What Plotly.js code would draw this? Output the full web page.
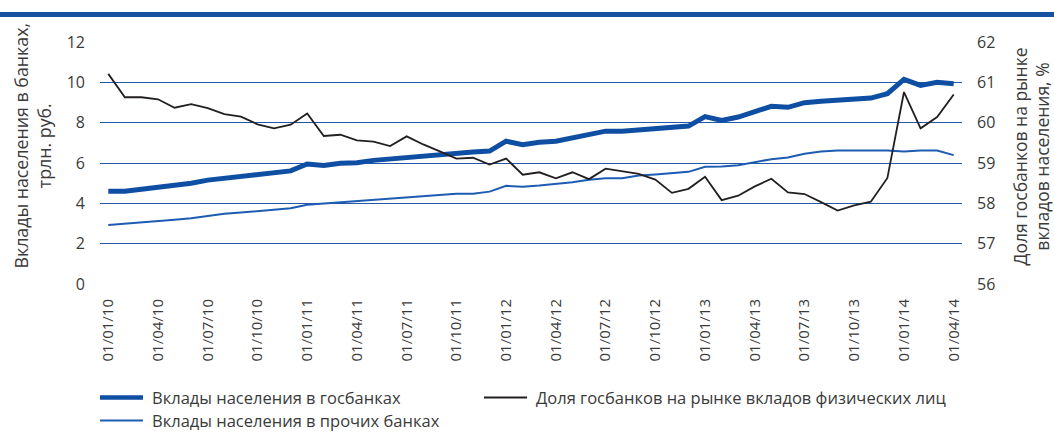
<!DOCTYPE html>
<html>
<head>
<meta charset="utf-8">
<script src="https://cdn.plot.ly/plotly-3.0.1.min.js"></script>
<style>
html,body{margin:0;padding:0;background:#fff;}
#wrap{position:relative;width:1054px;height:432px;}
#bar{position:absolute;left:0;top:12px;width:1054px;height:5px;background:#1652a3;z-index:5;}
#chart{position:absolute;left:0;top:0;width:1054px;height:432px;}
</style>
</head>
<body>
<div id="wrap"><div id="chart"></div><div id="bar"></div></div>
<script>
const dates = [
"01/01/10","01/02/10","01/03/10","01/04/10","01/05/10","01/06/10","01/07/10","01/08/10","01/09/10","01/10/10","01/11/10","01/12/10",
"01/01/11","01/02/11","01/03/11","01/04/11","01/05/11","01/06/11","01/07/11","01/08/11","01/09/11","01/10/11","01/11/11","01/12/11",
"01/01/12","01/02/12","01/03/12","01/04/12","01/05/12","01/06/12","01/07/12","01/08/12","01/09/12","01/10/12","01/11/12","01/12/12",
"01/01/13","01/02/13","01/03/13","01/04/13","01/05/13","01/06/13","01/07/13","01/08/13","01/09/13","01/10/13","01/11/13","01/12/13",
"01/01/14","01/02/14","01/03/14","01/04/14"];

const tickLabels = ["01/01/10","01/04/10","01/07/10","01/10/10","01/01/11","01/04/11","01/07/11","01/10/11",
"01/01/12","01/04/12","01/07/12","01/10/12","01/01/13","01/04/13","01/07/13","01/10/13","01/01/14","01/04/14"];

// Вклады населения в госбанках, трлн руб.
const stateBanks = [4.60,4.60,4.70,4.79,4.87,5.00,5.15,5.23,5.31,5.40,5.52,5.61,
5.95,5.88,5.99,6.01,6.13,6.20,6.33,6.40,6.43,6.53,6.55,6.59,
7.08,6.91,7.03,7.08,7.24,7.36,7.58,7.58,7.64,7.66,7.72,7.83,
8.30,8.11,8.28,8.53,8.81,8.76,8.99,9.06,9.12,9.16,9.22,9.44,
10.15,9.85,10.00,9.93];

// Вклады населения в прочих банках, трлн руб.
const otherBanks = [2.92,2.98,3.03,3.10,3.18,3.26,3.37,3.48,3.54,3.61,3.68,3.76,
3.93,3.99,4.04,4.09,4.15,4.21,4.28,4.32,4.40,4.47,4.48,4.58,
4.87,4.82,4.88,4.95,5.05,5.17,5.25,5.25,5.38,5.43,5.51,5.56,
5.81,5.83,5.89,6.03,6.19,6.27,6.46,6.57,6.62,6.62,6.62,6.62,
6.57,6.62,6.62,6.39];

// Доля госбанков на рынке вкладов физических лиц, %
const stateShare = [61.21,60.63,60.63,60.58,60.37,60.46,60.36,60.21,60.15,59.96,59.86,59.95,
60.23,59.67,59.70,59.56,59.53,59.42,59.66,59.46,59.29,59.11,59.13,58.96,
59.11,58.71,58.77,58.62,58.77,58.60,58.86,58.80,58.73,58.59,58.26,58.36,
58.66,58.08,58.19,58.42,58.61,58.27,58.23,58.03,57.82,57.95,58.04,58.63,
60.76,59.86,60.14,60.70];

const seriesNames = ['Вклады населения в госбанках', 'Доля госбанков на рынке вкладов физических лиц', 'Вклады населения в прочих банках'];
const seriesColors = ['#0f4fa3', '#231f20', '#1d5cb2'];
const seriesWidths = [5, 1.8, 2];

const FONT = '"Open Sans", "Noto Sans", sans-serif';
const TXT = '#3a3a3a';

const traces = [
  {x: dates, y: stateBanks, type: 'scatter', mode: 'lines', name: seriesNames[0],
   line: {color: seriesColors[0], width: seriesWidths[0]}, yaxis: 'y'},
  {x: dates, y: stateShare, type: 'scatter', mode: 'lines', name: seriesNames[1],
   line: {color: seriesColors[1], width: seriesWidths[1]}, yaxis: 'y2'},
  {x: dates, y: otherBanks, type: 'scatter', mode: 'lines', name: seriesNames[2],
   line: {color: seriesColors[2], width: seriesWidths[2]}, yaxis: 'y'}
];

// custom legend (pixel geometry -> paper coordinates)
const PL = 100, PW = 862, PB = 283.5, PH = 242;
const px = v => (v - PL) / PW;
const py = v => (PB - v) / PH;
const legendPos = [[100, 397], [484, 397], [100, 420]];
const shapes = [], legendAnn = [];
legendPos.forEach((p, i) => {
  shapes.push({type: 'line', xref: 'paper', yref: 'paper', x0: px(p[0]), x1: px(p[0] + 43), y0: py(p[1]), y1: py(p[1]),
               line: {color: seriesColors[i], width: i === 0 ? 4.5 : seriesWidths[i]}});
  legendAnn.push({text: seriesNames[i], xref: 'paper', yref: 'paper', x: px(p[0] + 50), y: py(p[1]),
                  xanchor: 'left', yanchor: 'middle', showarrow: false,
                  font: {family: FONT, size: 16.5, color: TXT}});
});

const layout = {
  width: 1054, height: 432,
  margin: {l: 100, r: 92, t: 42, b: 148, autoexpand: false},
  paper_bgcolor: '#fff', plot_bgcolor: '#fff',
  font: {family: FONT, color: TXT, size: 15},
  showlegend: false,
  xaxis: {type: 'category', categoryorder: 'array', categoryarray: dates,
          range: [-0.5, 51.5], tickmode: 'array', tickvals: tickLabels, ticktext: tickLabels,
          tickangle: -90, showgrid: false, zeroline: false, showline: false, ticks: '',
          ticklabelstandoff: 11, automargin: false,
          tickfont: {family: FONT, size: 15, color: TXT}},
  yaxis: {range: [0, 12], tickvals: [0,2,4,6,8,10,12], showgrid: true, gridcolor: '#2358a8', gridwidth: 1,
          zeroline: false, showline: false, ticks: '', ticklabelstandoff: 14, automargin: false,
          tickfont: {family: FONT, size: 16, color: TXT}},
  yaxis2: {range: [56, 62], tickvals: [56,57,58,59,60,61,62], overlaying: 'y', side: 'right',
           showgrid: false, zeroline: false, showline: false, ticks: '', ticklabelstandoff: 14, automargin: false,
           tickfont: {family: FONT, size: 16, color: TXT}},
  shapes: shapes,
  annotations: [
    {text: 'Вклады населения в банках,<br>трлн. руб.', textangle: -90, xref: 'paper', yref: 'paper',
     x: px(32), y: py(145), xanchor: 'center', yanchor: 'middle', showarrow: false,
     font: {family: FONT, size: 17.8, color: TXT}},
    {text: 'Доля госбанков на рынке<br>вкладов населения, %', textangle: -90, xref: 'paper', yref: 'paper',
     x: px(1031), y: py(156), xanchor: 'center', yanchor: 'middle', showarrow: false,
     font: {family: FONT, size: 17.5, color: TXT}}
  ].concat(legendAnn)
};

Plotly.newPlot('chart', traces, layout, {displayModeBar: false, staticPlot: true});
</script>
</body>
</html>
